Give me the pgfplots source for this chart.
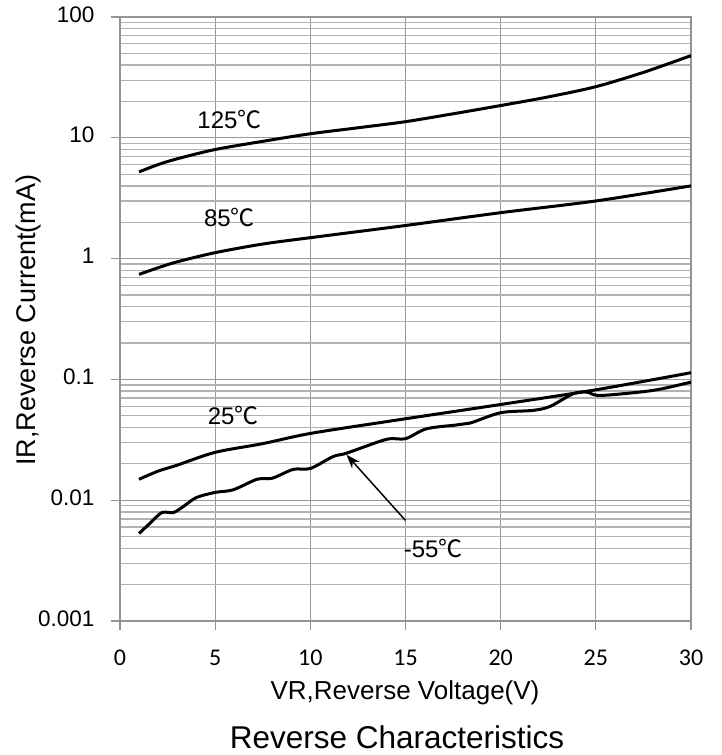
\documentclass[border=0pt]{standalone}
\usepackage{fontspec}
\setmainfont{Liberation Sans}
\newfontfamily\carlito{Carlito}
\newfontfamily\cjk{Noto Sans CJK SC}
\usepackage{pgfplots}
\pgfplotsset{compat=1.18}
\usetikzlibrary{arrows.meta}

\newcommand{\degc}{{\cjk ℃}}

\begin{document}
\begin{tikzpicture}[x=1pt,y=1pt]
\useasboundingbox (0,0) rectangle (721,755);
\begin{axis}[
  at={(120pt,134pt)}, anchor=south west,
  scale only axis, width=571pt, height=604pt,
  xmin=0, xmax=30, ymin=0.001, ymax=100,
  ymode=log,
  xtick={0,5,...,30},
  ytick={0.001,0.01,0.1,1,10,100},
  yticklabels={0.001,0.01,0.1,1,10,100},
  minor ytick={0.002,0.003,0.004,0.005,0.006,0.007,0.008,0.009,
               0.02,0.03,0.04,0.05,0.06,0.07,0.08,0.09,
               0.2,0.3,0.4,0.5,0.6,0.7,0.8,0.9,
               2,3,4,5,6,7,8,9,20,30,40,50,60,70,80,90},
  xmajorgrids, ymajorgrids, yminorgrids,
  major grid style={draw=black!40, line width=1.3pt},
  minor grid style={draw=black!30, line width=1.3pt},
  axis line style={draw=black!42, line width=1.3pt},
  xtick pos=bottom, ytick pos=left,
  tick align=outside,
  major tick length=9pt, minor tick length=0pt,
  every tick/.style={draw=black!42, line width=1.3pt},
  /pgf/number format/assume math mode=true,
  typeset ticklabels with strut,
  x tick label style={font=\carlito\fontsize{24}{27}\selectfont, yshift=-13pt},
  y tick label style={font=\fontsize{22.5}{26}\selectfont, xshift=-13pt},
  smooth, tension=0.5,
]
% 125 C
\addplot[black, line width=3pt] coordinates {
(1,5.22) (2,6.0) (3,6.7) (5,8.0) (7.5,9.35) (10,10.8) (12.5,12.1) (15,13.6)
(17.5,15.8) (20,18.5) (22.5,21.8) (25,26.5) (27.5,34.8) (30,47.9)};
% 85 C
\addplot[black, line width=3pt] coordinates {
(1,0.74) (2,0.84) (3,0.94) (5,1.12) (7.5,1.32) (10,1.49) (15,1.88)
(20,2.4) (25,3.0) (30,4.0)};
% 25 C
\addplot[black, line width=3pt] coordinates {
(1,0.0149) (2,0.0174) (3,0.0195) (5,0.0249) (7.5,0.0294) (10,0.0357)
(14.2,0.0452) (20,0.062) (25,0.082) (30,0.1136)};
% -55 C
\addplot[black, line width=3pt] coordinates {
(1,0.0053) (1.6,0.0065) (2.2,0.0079) (2.8,0.0079) (3.3,0.0088) (4.0,0.0105)
(5,0.0116) (5.95,0.0122) (7.2,0.0149) (8.0,0.0152) (9.1,0.018) (10,0.0183)
(11.2,0.023) (11.9,0.0245) (14,0.0319) (15,0.0323) (16.1,0.039) (17.7,0.042)
(18.4,0.0435) (20,0.053) (21.7,0.0554) (22.6,0.0598) (23.8,0.076) (24.5,0.0786)
(25.1,0.0737) (26.4,0.076) (28.2,0.082) (30,0.095)};

\draw[black, line width=1.5pt, -{Stealth[length=14pt, width=10pt]}]
  (axis cs:15,0.0068) -- (axis cs:11.9,0.0238);

\node[font=\fontsize{24}{28}\selectfont] at (axis cs:5.75,14.2) {125\degc};
\node[font=\fontsize{24}{28}\selectfont] at (axis cs:5.75,2.19) {85\degc};
\node[font=\fontsize{24}{28}\selectfont] at (axis cs:5.95,0.0503) {25\degc};
\node[font=\fontsize{24}{28}\selectfont, anchor=west, inner sep=0pt] at (axis cs:14.9,0.0040) {-55\degc};
\end{axis}
\node[rotate=90, font=\fontsize{27}{31}\selectfont] at (29,435) {IR,Reverse Current(mA)};
\node[font=\fontsize{26}{30}\selectfont] at (405,62) {VR,Reverse Voltage(V)};
\node[font=\fontsize{31.5}{35}\selectfont] at (397,18) {Reverse Characteristics};
\end{tikzpicture}
\end{document}
